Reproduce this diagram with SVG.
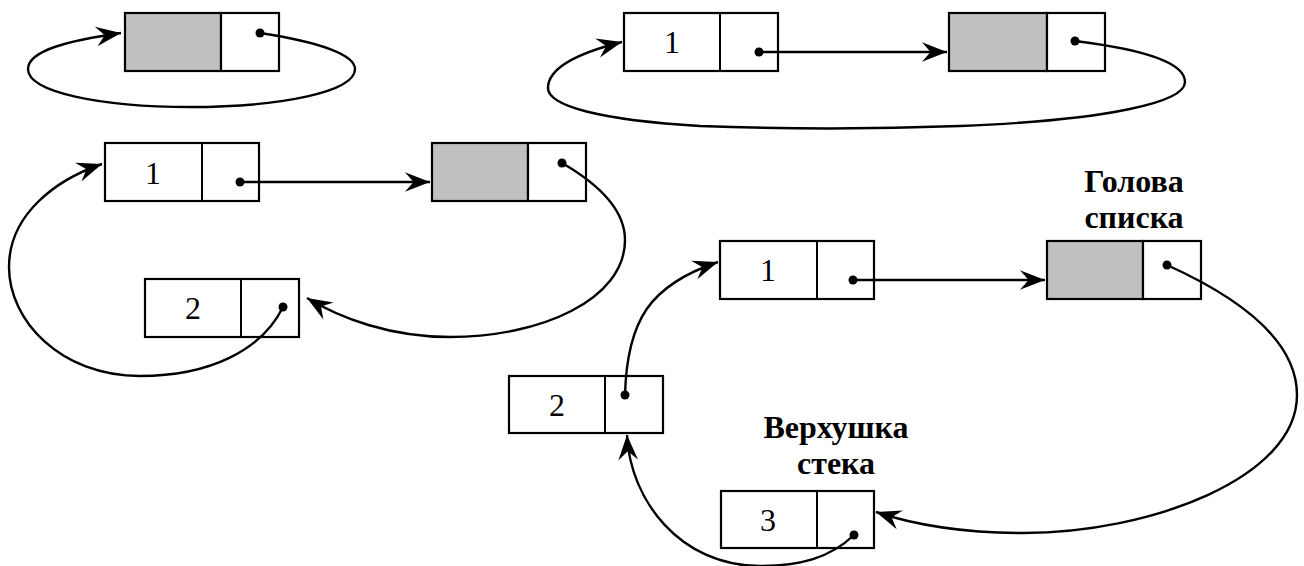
<svg xmlns="http://www.w3.org/2000/svg" width="1304" height="566" viewBox="0 0 1304 566">
<style>
.box{fill:#fff;stroke:#000;stroke-width:2.2}
.gray{fill:#c0c0c0;stroke:#000;stroke-width:2.2}
.div{stroke:#000;stroke-width:2}
.num{font-family:"Liberation Serif","Times New Roman",serif;font-size:32px;text-anchor:middle;fill:#000}
.lbl{font-family:"Liberation Serif","Times New Roman","DejaVu Serif",serif;font-size:32px;font-weight:bold;text-anchor:middle;fill:#000}
.con{fill:none;stroke:#000;stroke-width:2.4;marker-end:url(#ah)}
.dot{fill:#000}
</style>
<defs>
<marker id="ah" markerUnits="userSpaceOnUse" markerWidth="30" markerHeight="24" refX="0" refY="0" viewBox="-25 -11 27 22" orient="auto">
<path d="M0,0 L-23,-9 L-15,0 L-23,9 Z" fill="#000"/>
</marker>
</defs>
<rect width="1304" height="566" fill="#fff"/>

<g id="d1-node">
<rect class="gray" x="125" y="13" width="96" height="58"/>
<rect class="box" x="221" y="13" width="58" height="58"/>
<circle class="dot" cx="260" cy="33" r="4.5"/>
</g>

<g id="d2-node1">
<rect class="box" x="624" y="13" width="154" height="58"/>
<line class="div" x1="720" y1="13" x2="720" y2="71"/>
<text class="num" x="672" y="53">1</text>
<circle class="dot" cx="759" cy="52" r="4.5"/>
</g>
<g id="d2-head">
<rect class="gray" x="949" y="13" width="98" height="58"/>
<rect class="box" x="1047" y="13" width="58" height="58"/>
<circle class="dot" cx="1075" cy="41" r="4.5"/>
</g>

<g id="d3-node1">
<rect class="box" x="105" y="143" width="154" height="58"/>
<line class="div" x1="202" y1="143" x2="202" y2="201"/>
<text class="num" x="153" y="184">1</text>
<circle class="dot" cx="240" cy="182" r="4.5"/>
</g>
<g id="d3-head">
<rect class="gray" x="432" y="143" width="96" height="58"/>
<rect class="box" x="528" y="143" width="58" height="58"/>
<circle class="dot" cx="562" cy="163" r="4.5"/>
</g>
<g id="d3-node2">
<rect class="box" x="145" y="279" width="154" height="58"/>
<line class="div" x1="241" y1="279" x2="241" y2="337"/>
<text class="num" x="193" y="319">2</text>
<circle class="dot" cx="283" cy="307" r="4.5"/>
</g>

<g id="d4-node1">
<rect class="box" x="720" y="241" width="154" height="58"/>
<line class="div" x1="817" y1="241" x2="817" y2="299"/>
<text class="num" x="768" y="281">1</text>
<circle class="dot" cx="853" cy="280" r="4.5"/>
</g>
<g id="d4-head">
<rect class="gray" x="1047" y="241" width="96" height="58"/>
<rect class="box" x="1143" y="241" width="58" height="58"/>
<circle class="dot" cx="1167" cy="265" r="4.5"/>
<text class="lbl" x="1134" y="192">Голова</text>
<text class="lbl" x="1134" y="228">списка</text>
</g>
<g id="d4-node2">
<rect class="box" x="509" y="376" width="154" height="57"/>
<line class="div" x1="605" y1="376" x2="605" y2="433"/>
<text class="num" x="557" y="416">2</text>
<circle class="dot" cx="625" cy="395" r="4.5"/>
</g>
<g id="d4-top">
<rect class="box" x="721" y="491" width="153" height="57"/>
<line class="div" x1="817" y1="491" x2="817" y2="548"/>
<text class="num" x="768" y="531">3</text>
<circle class="dot" cx="854" cy="535" r="4.5"/>
<text class="lbl" x="836" y="438">Верхушка</text>
<text class="lbl" x="836" y="474">стека</text>
</g>

<g id="connectors">
<!-- diagram 1 -->
<path class="con" d="M260,33 C320,42 355,55 355,69 C355,92 280,107 190,107 C100,107 28,92 28,69 C28,50 72,40 121,33"/>
<!-- diagram 2 -->
<path class="con" d="M759,52 L947,52"/>
<path class="con" d="M1075,41 C1140,49 1185,62 1185,82 C1185,102 1110,120 960,126 C880,129 780,129 700,126 C600,120 548,106 548,88 C548,66 582,52 622,42"/>
<!-- diagram 3 -->
<path class="con" d="M240,182 L430,182"/>
<path class="con" d="M562,163 C600,185 625,210 625,240 C625,300 540,337 450,337 C390,337 340,318 307,298"/>
<path class="con" d="M283,307 C262,350 210,376 140,376 C60,376 9,320 9,267 C9,215 55,180 102,164"/>
<!-- diagram 4 -->
<path class="con" d="M853,280 L1045,280"/>
<path class="con" d="M1167,265 C1240,298 1297,340 1297,395 C1297,478 1150,533 1023,533 C960,533 912,524 876,512"/>
<path class="con" d="M625,395 C627,320 650,285 718,262"/>
<path class="con" d="M854,535 C830,558 800,566 760,566 C680,566 630,500 627,435"/>
</g>
</svg>
